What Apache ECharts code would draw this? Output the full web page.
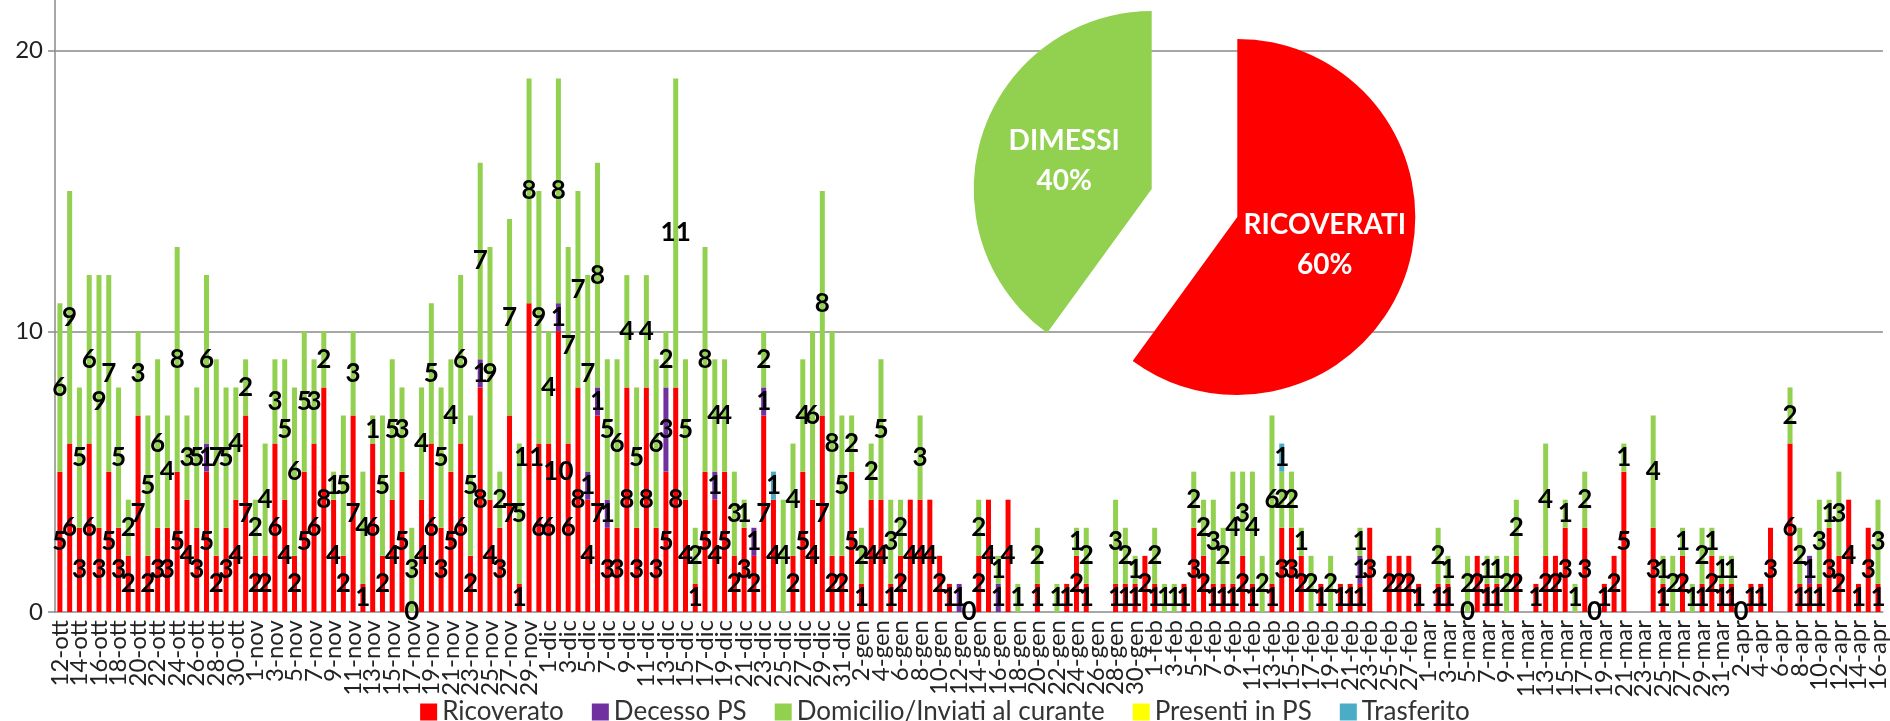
<!DOCTYPE html>
<html>
<head>
<meta charset="utf-8">
<script src="https://cdn.jsdelivr.net/npm/echarts@6/dist/echarts.min.js"></script>
<style>
    html, body { margin: 0; padding: 0; background: #fff; }
    #chart { width: 1890px; height: 721px; }
</style>
</head>
<body>
<div id="chart"></div>
<script>
const _ = null

const categories = [
    '12-ott','13-ott','14-ott','15-ott','16-ott','17-ott','18-ott','19-ott','20-ott','21-ott',
    '22-ott','23-ott','24-ott','25-ott','26-ott','27-ott','28-ott','29-ott','30-ott','31-ott',
    '1-nov','2-nov','3-nov','4-nov','5-nov','6-nov','7-nov','8-nov','9-nov','10-nov',
    '11-nov','12-nov','13-nov','14-nov','15-nov','16-nov','17-nov','18-nov','19-nov','20-nov',
    '21-nov','22-nov','23-nov','24-nov','25-nov','26-nov','27-nov','28-nov','29-nov','30-nov',
    '1-dic','2-dic','3-dic','4-dic','5-dic','6-dic','7-dic','8-dic','9-dic','10-dic',
    '11-dic','12-dic','13-dic','14-dic','15-dic','16-dic','17-dic','18-dic','19-dic','20-dic',
    '21-dic','22-dic','23-dic','24-dic','25-dic','26-dic','27-dic','28-dic','29-dic','30-dic',
    '31-dic','1-gen','2-gen','3-gen','4-gen','5-gen','6-gen','7-gen','8-gen','9-gen',
    '10-gen','11-gen','12-gen','13-gen','14-gen','15-gen','16-gen','17-gen','18-gen','19-gen',
    '20-gen','21-gen','22-gen','23-gen','24-gen','25-gen','26-gen','27-gen','28-gen','29-gen',
    '30-gen','31-gen','1-feb','2-feb','3-feb','4-feb','5-feb','6-feb','7-feb','8-feb',
    '9-feb','10-feb','11-feb','12-feb','13-feb','14-feb','15-feb','16-feb','17-feb','18-feb',
    '19-feb','20-feb','21-feb','22-feb','23-feb','24-feb','25-feb','26-feb','27-feb','28-feb',
    '1-mar','2-mar','3-mar','4-mar','5-mar','6-mar','7-mar','8-mar','9-mar','10-mar',
    '11-mar','12-mar','13-mar','14-mar','15-mar','16-mar','17-mar','18-mar','19-mar','20-mar',
    '21-mar','22-mar','23-mar','24-mar','25-mar','26-mar','27-mar','28-mar','29-mar','30-mar',
    '31-mar','1-apr','2-apr','3-apr','4-apr','5-apr','6-apr','7-apr','8-apr','9-apr',
    '10-apr','11-apr','12-apr','13-apr','14-apr','15-apr','16-apr'
]

const ricoverato = [
    5,6,3,6,3,5,3,2,7,2,
    3,3,5,4,3,5,2,3,4,7,
    2,2,6,4,2,5,6,8,4,2,
    7,1,6,2,4,5,0,4,6,3,
    5,6,2,8,4,3,7,1,11,6,
    6,10,6,8,4,7,3,3,8,3,
    8,3,5,8,4,1,5,4,5,2,
    3,2,7,4,_,2,5,4,7,2,
    2,5,1,4,4,1,2,4,4,4,
    2,1,_,0,2,4,_,4,_,_,
    1,_,_,1,2,1,_,_,1,1,
    1,2,1,_,_,1,3,2,1,1,
    1,2,1,_,1,3,3,2,_,1,
    _,1,1,1,3,_,2,2,2,1,
    _,1,1,_,0,2,1,1,_,2,
    _,1,2,2,3,_,3,0,1,2,
    5,_,_,3,1,_,2,_,1,2,
    1,1,0,1,1,3,_,6,1,1,
    1,3,2,4,1,3,1
]

const decesso = [
    _,_,_,_,_,_,_,_,_,_,
    _,_,_,_,_,1,_,_,_,_,
    _,_,_,_,_,_,_,_,_,_,
    _,_,_,_,_,_,_,_,_,_,
    _,_,_,1,_,_,_,_,_,_,
    _,1,_,_,1,1,1,_,_,_,
    _,_,3,_,_,_,_,1,_,_,
    _,1,1,_,_,_,_,_,_,_,
    _,_,_,_,_,_,_,_,_,_,
    _,_,1,_,_,_,1,_,_,_,
    _,_,_,_,_,_,_,_,_,_,
    _,_,_,_,_,_,_,_,_,_,
    _,_,_,_,_,_,_,_,_,_,
    _,_,_,1,_,_,_,_,_,_,
    _,_,_,_,_,_,_,_,_,_,
    _,_,_,_,_,_,_,_,_,_,
    _,_,_,_,_,_,_,_,_,_,
    _,_,_,_,_,_,_,_,_,1,
    _,_,_,_,_,_,_
]

const domicilio = [
    6,9,5,6,9,7,5,2,3,5,
    6,4,8,3,5,6,7,5,4,2,
    2,4,3,5,6,5,3,2,1,5,
    3,4,1,5,5,3,3,4,5,5,
    4,6,5,7,9,2,7,5,8,9,
    4,8,7,7,7,8,5,6,4,5,
    4,6,2,11,5,2,8,4,4,3,
    1,_,2,_,4,4,4,6,8,8,
    5,2,2,2,5,3,2,_,3,_,
    _,_,_,_,2,_,1,_,1,_,
    2,_,1,_,1,2,_,_,3,2,
    1,_,2,1,1,_,2,2,3,2,
    4,3,4,2,6,2,2,1,2,_,
    2,_,_,1,_,_,_,_,_,_,
    _,2,1,_,2,_,1,1,2,2,
    _,_,4,_,1,1,2,_,_,_,
    1,_,_,4,1,2,1,1,2,1,
    1,1,_,_,_,_,_,2,2,_,
    3,1,3,_,_,_,3
]

const presenti = categories.map(() => null)

const trasferito = [
    _,_,_,_,_,_,_,_,_,_,
    _,_,_,_,_,_,_,_,_,_,
    _,_,_,_,_,_,_,_,_,_,
    _,_,_,_,_,_,_,_,_,_,
    _,_,_,_,_,_,_,_,_,_,
    _,_,_,_,_,_,_,_,_,_,
    _,_,_,_,_,_,_,_,_,_,
    _,_,_,1,_,_,_,_,_,_,
    _,_,_,_,_,_,_,_,_,_,
    _,_,_,_,_,_,_,_,_,_,
    _,_,_,_,_,_,_,_,_,_,
    _,_,_,_,_,_,_,_,_,_,
    _,_,_,_,_,1,_,_,_,_,
    _,_,_,_,_,_,_,_,_,_,
    _,_,_,_,_,_,_,_,_,_,
    _,_,_,_,_,_,_,_,_,_,
    _,_,_,_,_,_,_,_,_,_,
    _,_,_,_,_,_,_,_,_,_,
    _,_,_,_,_,_,_
]

const seriesNames = ['Ricoverato', 'Decesso PS', 'Domicilio/Inviati al curante', 'Presenti in PS', 'Trasferito']
const colorList = ['#FF0000', '#7030A0', '#92D050', '#FFFF00', '#4BACC6']

const pieNames = ['RICOVERATI', 'DIMESSI']
const pieValues = [60, 40]
const pieColors = ['#FF0000', '#92D050']
const pieLabelOffsets = [[-4, 10], [-14, 14]]

const fontFamily = 'Lato'
const gridColor = '#8a8a8a'

const barLabel = {
    show: true,
    position: 'inside',
    color: '#000',
    fontFamily: fontFamily,
    fontWeight: 'bold',
    fontSize: 26
}

const barData = [ricoverato, decesso, domicilio, presenti, trasferito]
const series = barData.map((data, index) => {
    const obj = {
        name: seriesNames[index],
        type: 'bar',
        stack: 'total',
        data: data,
        barWidth: 5,
        itemStyle: { color: colorList[index] },
        label: barLabel
    }
    if (index === 0) {
        obj.markLine = {
            silent: true,
            symbol: 'none',
            z: 1,
            label: { show: false },
            lineStyle: { color: gridColor, width: 1.5, type: 'solid' },
            data: [{ yAxis: 10 }, { yAxis: 20 }]
        }
    }
    return obj
})

series.push({
    name: 'pie',
    type: 'pie',
    center: [1194.5, 203],
    radius: 178,
    startAngle: 90,
    clockwise: true,
    selectedMode: 'multiple',
    selectedOffset: 45,
    z: 5,
    emphasis: { disabled: true },
    label: {
        show: true,
        position: 'inner',
        color: '#fff',
        fontFamily: fontFamily,
        fontWeight: 'bold',
        fontSize: 28,
        lineHeight: 40,
        formatter: p => p.name + '\n' + Math.round(p.percent) + '%'
    },
    labelLine: { show: false },
    data: pieNames.map((name, i) => ({
        name: name,
        value: pieValues[i],
        selected: true,
        itemStyle: { color: pieColors[i] },
        label: { offset: pieLabelOffsets[i] }
    }))
})

const chart = echarts.init(document.getElementById('chart'))
chart.setOption({
    animation: false,
    textStyle: { fontFamily: fontFamily },
    grid: {
        left: 55,
        right: 4,
        top: 0,
        bottom: 109
    },
    legend: {
        data: seriesNames,
        top: 694,
        left: 'center',
        itemWidth: 17,
        itemHeight: 17,
        itemGap: 28,
        icon: 'rect',
        textStyle: {
            color: '#333',
            fontSize: 26,
            fontFamily: fontFamily
        }
    },
    xAxis: {
        type: 'category',
        data: categories,
        axisLine: { lineStyle: { color: gridColor, width: 1.5 } },
        axisTick: {
            interval: 1,
            length: 7,
            lineStyle: { color: gridColor, width: 1.5 }
        },
        axisLabel: {
            // every label drawn, odd days left blank
            interval: 0,
            formatter: (value, index) => (index % 2 === 0 ? value : ''),
            rotate: 90,
            margin: 8,
            color: '#222',
            fontSize: 24,
            fontFamily: fontFamily
        }
    },
    yAxis: {
        type: 'value',
        min: 0,
        max: 21.8,
        interval: 10,
        axisLine: { show: true, lineStyle: { color: gridColor, width: 1.5 } },
        axisTick: { show: true, length: 7, lineStyle: { color: gridColor, width: 1.5 } },
        splitLine: { show: false },
        axisLabel: {
            showMaxLabel: false,
            margin: 12,
            color: '#222',
            fontSize: 24,
            fontFamily: fontFamily,
            formatter: v => (v % 10 === 0 ? String(v) : '')
        }
    },
    series: series
})
</script>
</body>
</html>
